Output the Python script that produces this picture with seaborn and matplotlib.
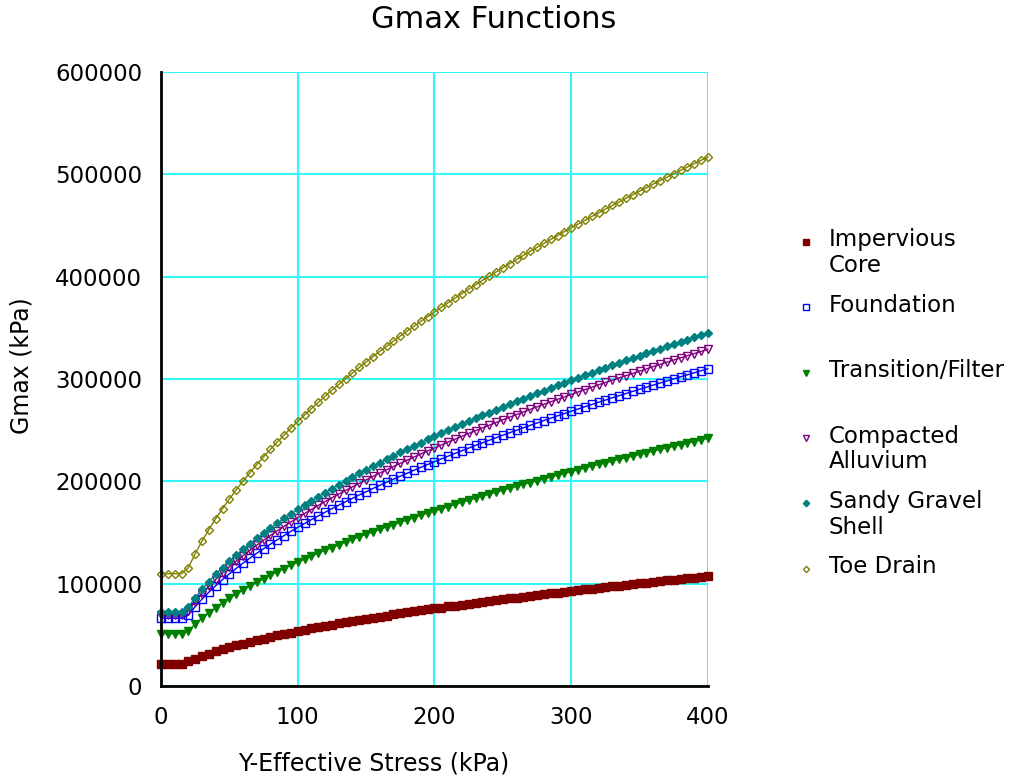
import matplotlib
matplotlib.use("Agg")
import matplotlib.pyplot as plt
from matplotlib.lines import Line2D
import seaborn as sns

sns.set_style("white")
plt.rcParams["font.family"] = ["DejaVu Sans"]

# Effective vertical stress (kPa)
STRESS_KPA = list(range(0, 405, 5))

SERIES_NAMES = [
    "Impervious Core",
    "Foundation",
    "Transition/Filter",
    "Compacted Alluvium",
    "Sandy Gravel Shell",
    "Toe Drain",
]
LEGEND_LINES = [
    ["Impervious", "Core"],
    ["Foundation"],
    ["Transition/Filter"],
    ["Compacted", "Alluvium"],
    ["Sandy Gravel", "Shell"],
    ["Toe Drain"],
]

# Gmax values in thousands of kPa, one value per stress step
IMPERVIOUS_CORE = [
    21.5, 21.5, 21.5, 21.5, 24.0,
    26.8, 29.4, 31.7, 33.9, 36.0, 37.9, 39.7, 41.5, 43.2, 44.8,
    46.4, 47.9, 49.4, 50.9, 52.2, 53.6, 54.9, 56.2, 57.5, 58.7,
    59.9, 61.1, 62.3, 63.4, 64.5, 65.6, 66.7, 67.8, 68.8, 69.9,
    70.9, 71.9, 72.9, 73.9, 74.8, 75.8, 76.7, 77.7, 78.6, 79.5,
    80.4, 81.3, 82.2, 83.0, 83.9, 84.7, 85.6, 86.4, 87.3, 88.1,
    88.9, 89.7, 90.5, 91.3, 92.1, 92.8, 93.6, 94.4, 95.1, 95.9,
    96.6, 97.4, 98.1, 98.8, 99.6, 100.3, 101.0, 101.7, 102.4, 103.1,
    103.8, 104.5, 105.2, 105.8, 106.5, 107.2,
]
FOUNDATION = [
    66.2, 66.2, 66.2, 66.2, 69.3,
    77.5, 84.9, 91.7, 98.0, 104.0, 109.6, 114.9, 120.1, 125.0, 129.7,
    134.2, 138.6, 142.9, 147.0, 151.1, 155.0, 158.8, 162.6, 166.2, 169.8,
    173.3, 176.7, 180.1, 183.4, 186.7, 189.8, 193.0, 196.1, 199.1, 202.1,
    205.0, 207.9, 210.8, 213.7, 216.4, 219.2, 221.9, 224.6, 227.3, 229.9,
    232.5, 235.1, 237.6, 240.1, 242.6, 245.1, 247.5, 249.9, 252.3, 254.7,
    257.0, 259.4, 261.7, 264.0, 266.2, 268.5, 270.7, 272.9, 275.1, 277.3,
    279.4, 281.6, 283.7, 285.8, 287.9, 290.0, 292.0, 294.1, 296.1, 298.1,
    300.2, 302.2, 304.1, 306.1, 308.1, 310.0,
]
TRANSITION_FILTER = [
    51.1, 51.1, 51.1, 51.1, 54.1,
    60.5, 66.3, 71.6, 76.5, 81.2, 85.6, 89.7, 93.7, 97.6, 101.2,
    104.8, 108.2, 111.6, 114.8, 117.9, 121.0, 124.0, 126.9, 129.8, 132.5,
    135.3, 138.0, 140.6, 143.2, 145.7, 148.2, 150.6, 153.1, 155.4, 157.8,
    160.1, 162.3, 164.6, 166.8, 169.0, 171.1, 173.2, 175.3, 177.4, 179.5,
    181.5, 183.5, 185.5, 187.5, 189.4, 191.3, 193.2, 195.1, 197.0, 198.8,
    200.7, 202.5, 204.3, 206.1, 207.8, 209.6, 211.3, 213.0, 214.8, 216.5,
    218.1, 219.8, 221.5, 223.1, 224.7, 226.4, 228.0, 229.6, 231.2, 232.7,
    234.3, 235.9, 237.4, 238.9, 240.5, 242.0,
]
COMPACTED_ALLUVIUM = [
    69.4, 69.4, 69.4, 69.4, 73.6,
    82.3, 90.1, 97.3, 104.0, 110.3, 116.3, 122.0, 127.4, 132.6, 137.6,
    142.5, 147.1, 151.7, 156.1, 160.3, 164.5, 168.6, 172.5, 176.4, 180.2,
    183.9, 187.6, 191.1, 194.6, 198.1, 201.5, 204.8, 208.1, 211.3, 214.5,
    217.6, 220.7, 223.7, 226.7, 229.7, 232.6, 235.5, 238.4, 241.2, 244.0,
    246.8, 249.5, 252.2, 254.8, 257.5, 260.1, 262.7, 265.3, 267.8, 270.3,
    272.8, 275.3, 277.7, 280.1, 282.5, 284.9, 287.3, 289.6, 292.0, 294.3,
    296.6, 298.8, 301.1, 303.3, 305.5, 307.7, 309.9, 312.1, 314.3, 316.4,
    318.6, 320.7, 322.8, 324.9, 326.9, 329.0,
]
SANDY_GRAVEL_SHELL = [
    72.6, 72.6, 72.6, 72.6, 77.1,
    86.3, 94.5, 102.1, 109.1, 115.7, 122.0, 127.9, 133.6, 139.1, 144.3,
    149.4, 154.3, 159.0, 163.7, 168.1, 172.5, 176.8, 180.9, 185.0, 189.0,
    192.9, 196.7, 200.4, 204.1, 207.7, 211.3, 214.8, 218.2, 221.6, 224.9,
    228.2, 231.4, 234.6, 237.8, 240.9, 244.0, 247.0, 250.0, 252.9, 255.9,
    258.8, 261.6, 264.4, 267.2, 270.0, 272.7, 275.5, 278.2, 280.8, 283.5,
    286.1, 288.6, 291.2, 293.8, 296.3, 298.8, 301.3, 303.7, 306.2, 308.6,
    311.0, 313.4, 315.7, 318.1, 320.4, 322.7, 325.0, 327.3, 329.6, 331.8,
    334.0, 336.3, 338.5, 340.7, 342.8, 345.0,
]
TOE_DRAIN = [
    109.7, 109.7, 109.7, 109.7, 115.6,
    129.3, 141.6, 152.9, 163.5, 173.4, 182.8, 191.7, 200.2, 208.4, 216.3,
    223.9, 231.2, 238.3, 245.2, 252.0, 258.5, 264.9, 271.1, 277.2, 283.2,
    289.0, 294.7, 300.4, 305.9, 311.3, 316.6, 321.8, 327.0, 332.0, 337.0,
    342.0, 346.8, 351.6, 356.3, 361.0, 365.6, 370.1, 374.6, 379.0, 383.4,
    387.8, 392.0, 396.3, 400.5, 404.6, 408.7, 412.8, 416.8, 420.8, 424.8,
    428.7, 432.5, 436.4, 440.2, 444.0, 447.8, 451.4, 455.1, 458.8, 462.4,
    466.0, 469.6, 473.1, 476.6, 480.1, 483.6, 487.0, 490.5, 493.9, 497.2,
    500.6, 503.9, 507.2, 510.5, 513.8, 517.0,
]
SERIES_VALUES = [
    IMPERVIOUS_CORE,
    FOUNDATION,
    TRANSITION_FILTER,
    COMPACTED_ALLUVIUM,
    SANDY_GRAVEL_SHELL,
    TOE_DRAIN,
]

X_TICKS = [0, 100, 200, 300, 400]
X_TICK_LABELS = ["0", "100", "200", "300", "400"]
Y_TICKS = [0, 100000, 200000, 300000, 400000, 500000, 600000]
Y_TICK_LABELS = ["0", "100000", "200000", "300000", "400000", "500000", "600000"]

# colour, marker, filled, marker size (pt)
STYLES = [
    ("#800000", "s", True, 5.8),
    ("#0000FF", "s", False, 5.6),
    ("#008000", "v", True, 6.0),
    ("#800080", "v", False, 6.0),
    ("#008080", "D", True, 4.4),
    ("#808000", "D", False, 4.2),
]

W, H = 1030, 777
fig = plt.figure(figsize=(W / 100, H / 100), dpi=100)
ax = fig.add_axes([161 / W, 1 - 686 / H, (708 - 161) / W, (686 - 72) / H])

for name, vals, (col, mk, filled, ms) in zip(SERIES_NAMES, SERIES_VALUES, STYLES):
    sns.lineplot(
        x=STRESS_KPA,
        y=[v * 1000 for v in vals],
        ax=ax,
        color=col,
        linewidth=1.0,
        marker=mk,
        markersize=ms,
        markerfacecolor=col if filled else "none",
        markeredgecolor=col,
        markeredgewidth=1.0,
        legend=False,
        clip_on=False,
        zorder=3,
    )

ax.set_xlim(0, 400)
ax.set_ylim(0, 600000)
ax.set_xticks(X_TICKS)
ax.set_xticklabels(X_TICK_LABELS)
ax.set_yticks(Y_TICKS)
ax.set_yticklabels(Y_TICK_LABELS)
ax.set_xlabel("")
ax.set_ylabel("")

ax.grid(True, color="#33F7F7", linewidth=1.5)
ax.set_axisbelow(True)
for side in ("top", "right"):
    ax.spines[side].set_visible(False)
for side in ("left", "bottom"):
    ax.spines[side].set_color("black")
    ax.spines[side].set_linewidth(2.0)
    ax.spines[side].set_zorder(4)

ax.tick_params(axis="y", direction="inout", length=21, width=1.6, pad=3,
               labelsize=16.5, colors="black")
ax.tick_params(axis="x", direction="inout", length=19, width=1.6, pad=5,
               labelsize=16.5, colors="black")

# Titles
fig.text(494 / W, 1 - 19 / H, "Gmax Functions", ha="center", va="center",
         fontsize=22, color="black")
fig.text(374 / W, 1 - 764 / H, "Y-Effective Stress (kPa)", ha="center",
         va="center", fontsize=17, color="black")
fig.text(22 / W, 1 - 366 / H, "Gmax (kPa)", ha="center", va="center",
         rotation=90, fontsize=17, color="black")

# Legend on the right
for i, (lines, (col, mk, filled, ms)) in enumerate(zip(LEGEND_LINES, STYLES)):
    yc = 241.8 + 65.4 * i
    fig.add_artist(Line2D([806 / W], [1 - yc / H], transform=fig.transFigure,
                          marker=mk, markersize=ms * 0.75, linestyle="none",
                          markerfacecolor=col if filled else "none",
                          markeredgecolor=col, markeredgewidth=1.0))
    for k, txt in enumerate(lines):
        fig.text(829 / W, 1 - (yc - 2 + 25.8 * k) / H, txt, ha="left",
                 va="center", fontsize=16.5, color="black")

fig.savefig("out.png", dpi=100, facecolor="white")
